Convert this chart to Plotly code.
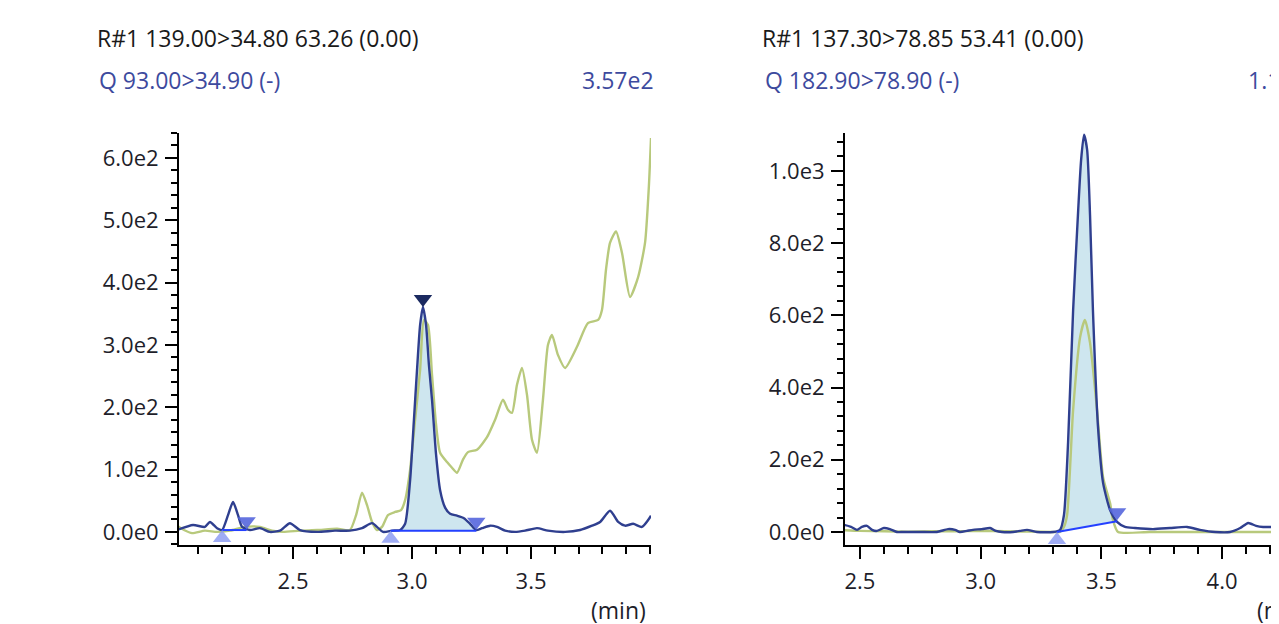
import numpy as np
import plotly.graph_objects as go

W, H = 1279, 624
PAGE_OFFSET = 8  # default body margin of the html page

# ---------------- Left panel data ----------------
left_title = "R#1 139.00>34.80 63.26 (0.00)"
left_sub = "Q 93.00>34.90 (-)"
left_max = "3.57e2"

left_navy_t = [2.013, 2.080, 2.130, 2.151, 2.181, 2.202, 2.227, 2.248, 2.269, 2.286, 2.319, 2.361,
               2.403, 2.445, 2.487, 2.529, 2.601, 2.676, 2.739, 2.790, 2.832, 2.878, 2.916, 2.950,
               2.971, 2.992, 3.008, 3.021, 3.034, 3.046, 3.059, 3.071, 3.084, 3.101, 3.118, 3.139,
               3.160, 3.189, 3.218, 3.244, 3.269, 3.294, 3.328, 3.357, 3.391, 3.433, 3.475, 3.525,
               3.571, 3.643, 3.706, 3.756, 3.790, 3.832, 3.866, 3.895, 3.929, 3.966, 3.992, 4.004]
left_navy_y = [3, 11, 8, 16, 6, 3, 27, 48, 27, 8, 3, 6,
               0, 2, 14, 3, 0, 2, 2, 6, 14, 0, 2, 3,
               13, 83, 180, 260, 332, 361, 332, 268, 212, 124, 67, 39,
               29, 26, 22, 13, 3, 6, 10, 8, 2, 0, 2, 6,
               2, 0, 3, 10, 16, 34, 16, 10, 13, 8, 19, 26]

left_green_t = [2.013, 2.042, 2.076, 2.130, 2.181, 2.235, 2.298, 2.361, 2.412, 2.458, 2.529, 2.601,
                2.685, 2.739, 2.765, 2.790, 2.811, 2.832, 2.853, 2.874, 2.899, 2.929, 2.954, 2.971,
                2.992, 3.013, 3.034, 3.050, 3.067, 3.084, 3.101, 3.118, 3.147, 3.168, 3.189, 3.214,
                3.235, 3.273, 3.315, 3.349, 3.382, 3.403, 3.420, 3.441, 3.462, 3.483, 3.504, 3.525,
                3.550, 3.571, 3.588, 3.613, 3.643, 3.693, 3.739, 3.782, 3.798, 3.815, 3.832, 3.857,
                3.882, 3.916, 3.950, 3.979, 3.995, 4.004]
left_green_y = [10, 3, -2, 2, 0, 2, 8, 8, 2, 0, 2, 3,
                5, 3, 27, 63, 43, 16, 3, 8, 27, 32, 35, 51,
                100, 180, 260, 340, 332, 252, 172, 127, 112, 103, 95, 116,
                128, 132, 152, 180, 212, 196, 191, 236, 263, 220, 148, 127,
                212, 300, 316, 284, 263, 297, 335, 340, 356, 421, 464, 482,
                448, 377, 409, 464, 554, 632]

left_peak_start = [2.202, 2.910]
left_peak_end = [2.305, 3.270]
left_peak_base0 = [3, 2]
left_peak_base1 = [3, 2]
left_peak_filled = [False, True]
left_peak_top = 3.046

# ---------------- Right panel data ----------------
right_title = "R#1 137.30>78.85 53.41 (0.00)"
right_sub = "Q 182.90>78.90 (-)"
right_max = "1.11e3"

right_navy_t = [2.430, 2.438, 2.463, 2.488, 2.508, 2.529, 2.550, 2.570, 2.599, 2.624, 2.653, 2.678, 2.749,
                2.819, 2.865, 2.894, 2.914, 2.943, 2.968, 3.005, 3.039, 3.063, 3.088, 3.134, 3.163,
                3.192, 3.233, 3.300, 3.329, 3.345, 3.362, 3.383, 3.404, 3.416, 3.428, 3.441, 3.453,
                3.465, 3.486, 3.507, 3.536, 3.565, 3.598, 3.639, 3.714, 3.784, 3.855, 3.908, 3.971,
                4.033, 4.075, 4.108, 4.141, 4.170, 4.240, 4.270]
right_navy_y = [19, 19, 14, 6, 14, 17, 6, 3, 11, 8, 0, 0, 0,
                0, 8, 6, 0, 3, 6, 8, 11, 3, 0, 0, 3,
                6, 0, 0, 6, 47, 247, 615, 892, 1030, 1100, 1058, 878,
                615, 291, 136, 61, 28, 14, 11, 8, 11, 14, 6, 0,
                0, 11, 25, 17, 14, 14, 14]

right_green_t = [2.430, 2.500, 2.600, 2.700, 2.800, 2.900, 3.000, 3.100, 3.200, 3.300, 3.329, 3.345,
                 3.358, 3.383, 3.412, 3.432, 3.453, 3.482, 3.507, 3.536, 3.548, 3.569, 3.700, 3.900,
                 4.100, 4.270]
right_green_y = [5, 3, 2, 1, 2, 2, 3, 2, 1, 0, 0, 14,
                 47, 338, 540, 587, 524, 338, 152, 80, 33, 0, 0, 0,
                 0, 0]

right_peak_start = [3.316]
right_peak_end = [3.565]
right_peak_base0 = [0]
right_peak_base1 = [30]
right_peak_filled = [True]
right_peak_top = 3.432

left_xticks = [2.5, 3.0, 3.5]
left_xlabels = ["2.5", "3.0", "3.5"]
right_xticks = [2.5, 3.0, 3.5, 4.0]
right_xlabels = ["2.5", "3.0", "3.5", "4.0"]
left_yticks = [0, 100, 200, 300, 400, 500, 600]
left_ylabels = ["0.0e0", "1.0e2", "2.0e2", "3.0e2", "4.0e2", "5.0e2", "6.0e2"]
right_yticks = [0, 200, 400, 600, 800, 1000]
right_ylabels = ["0.0e0", "2.0e2", "4.0e2", "6.0e2", "8.0e2", "1.0e3"]

# ---------------- styling / layout ----------------
NAVY = "#2f3f8f"
GREEN = "#b8c97c"
FILL = "rgba(190,222,234,0.75)"
BASE = "#2440ff"
TOPM = "#1b2a60"
ENDM = "#5566dd"
STARTM = "#8e9df2"
QCOL = "#3d4a9e"
FONT = "Open Sans"
TICK_SIZE = 22
TEXT_SIZE = 23
LW = 2.4


def fx(sx):
    return (sx - PAGE_OFFSET) / W


def fy(sy):
    return 1 - (sy - PAGE_OFFSET) / H


PLOT_TOP, PLOT_BOT = 133, 545
panels = [
    dict(px0=179, px1=651, xr=[2.021, 4.004], yr=[-21, 640], mdy=20,
         navy=(left_navy_t, left_navy_y), green=(left_green_t, left_green_y),
         ps=left_peak_start, pe=left_peak_end, b0=left_peak_base0, b1=left_peak_base1,
         pf=left_peak_filled, top=left_peak_top,
         xt=left_xticks, xl=left_xlabels, yt=left_yticks, yl=left_ylabels,
         title=left_title, sub=left_sub, mx=left_max, tx=95, sx=97, mxx=656, minx=648),
    dict(px0=845, px1=W + PAGE_OFFSET, xr=[2.438, 4.2689], yr=[-36, 1105], mdy=40,
         navy=(right_navy_t, right_navy_y), green=(right_green_t, right_green_y),
         ps=right_peak_start, pe=right_peak_end, b0=right_peak_base0, b1=right_peak_base1,
         pf=right_peak_filled, top=right_peak_top,
         xt=right_xticks, xl=right_xlabels, yt=right_yticks, yl=right_ylabels,
         title=right_title, sub=right_sub, mx=right_max, tx=760, sx=763, mxx=1322, minx=1314),
]

fig = go.Figure()
annotations = []
ydom = [fy(PLOT_BOT), fy(PLOT_TOP)]

for i, p in enumerate(panels):
    xa = "x" if i == 0 else "x2"
    ya = "y" if i == 0 else "y2"
    nt, ny = np.array(p["navy"][0]), np.array(p["navy"][1], dtype=float)
    gt, gy = np.array(p["green"][0]), np.array(p["green"][1], dtype=float)
    px_per_unit = (PLOT_BOT - PLOT_TOP) / (p["yr"][1] - p["yr"][0])
    off = 8 / px_per_unit

    # peak fills
    for s, e, b0, b1, f in zip(p["ps"], p["pe"], p["b0"], p["b1"], p["pf"]):
        if not f:
            continue
        inner = (nt > s) & (nt < e)
        xs = np.concatenate([[s], nt[inner], [e]])
        ys = np.concatenate([[np.interp(s, nt, ny)], ny[inner], [np.interp(e, nt, ny)]])
        fig.add_trace(go.Scatter(x=list(xs) + [e, s], y=list(ys) + [b1, b0], fill="toself",
                                 fillcolor=FILL, line=dict(width=0, shape="spline", smoothing=0.6),
                                 mode="lines", xaxis=xa, yaxis=ya, showlegend=False,
                                 hoverinfo="skip"))
    # green trace
    fig.add_trace(go.Scatter(x=gt, y=gy, mode="lines",
                             line=dict(color=GREEN, width=LW, shape="spline", smoothing=0.6),
                             xaxis=xa, yaxis=ya, showlegend=False))
    # navy trace
    fig.add_trace(go.Scatter(x=nt, y=ny, mode="lines",
                             line=dict(color=NAVY, width=LW, shape="spline", smoothing=0.6),
                             xaxis=xa, yaxis=ya, showlegend=False))
    # baselines
    for s, e, b0, b1 in zip(p["ps"], p["pe"], p["b0"], p["b1"]):
        fig.add_trace(go.Scatter(x=[s, e], y=[b0, b1], mode="lines",
                                 line=dict(color=BASE, width=2),
                                 xaxis=xa, yaxis=ya, showlegend=False))
    # markers
    fig.add_trace(go.Scatter(x=p["ps"], y=[b - off for b in p["b0"]], mode="markers",
                             marker=dict(symbol="triangle-up", size=16, color=STARTM, opacity=0.85),
                             xaxis=xa, yaxis=ya, showlegend=False, cliponaxis=False))
    fig.add_trace(go.Scatter(x=p["pe"], y=[b + off * 1.1 for b in p["b1"]], mode="markers",
                             marker=dict(symbol="triangle-down", size=16, color=ENDM, opacity=0.9),
                             xaxis=xa, yaxis=ya, showlegend=False, cliponaxis=False))
    ty = float(np.interp(p["top"], nt, ny))
    fig.add_trace(go.Scatter(x=[p["top"]], y=[ty + off], mode="markers",
                             marker=dict(symbol="triangle-down", size=16, color=TOPM),
                             xaxis=xa, yaxis=ya, showlegend=False, cliponaxis=False))

    xdom = [fx(p["px0"]), min(1.0, fx(p["px1"]))]
    axis_common = dict(showline=True, linecolor="black", linewidth=2, showgrid=False,
                       zeroline=False, ticks="outside", ticklen=12, tickwidth=2,
                       tickcolor="black",
                       tickfont=dict(family=FONT, size=TICK_SIZE, color="#1e1e2a"))
    xkey = "xaxis" if i == 0 else "xaxis2"
    ykey = "yaxis" if i == 0 else "yaxis2"
    fig.update_layout(**{
        xkey: dict(domain=xdom, range=p["xr"], anchor=ya, tickmode="array",
                   tickvals=p["xt"], ticktext=p["xl"], ticklabelstandoff=4,
                   minor=dict(tickmode="linear", tick0=0, dtick=0.1, ticks="outside",
                              ticklen=7, tickwidth=2, tickcolor="black"),
                   **axis_common),
        ykey: dict(domain=ydom, range=p["yr"], anchor=xa, tickmode="array",
                   tickvals=p["yt"], ticktext=p["yl"], ticklabelstandoff=2,
                   minor=dict(tickmode="linear", tick0=0, dtick=p["mdy"], ticks="outside",
                              ticklen=6, tickwidth=2, tickcolor="black"),
                   **axis_common),
    })

    for text, px, py, anc, col in [
        (p["title"], p["tx"], 38, "left", "#1a1a1a"),
        (p["sub"], p["sx"], 80, "left", QCOL),
        (p["mx"], p["mxx"], 80, "right", QCOL),
        ("(min)", p["minx"], 610, "right", "#1e1e2a"),
    ]:
        annotations.append(dict(text=text, x=fx(px), y=fy(py), xref="paper", yref="paper",
                                xanchor=anc, yanchor="middle", showarrow=False,
                                font=dict(family=FONT, size=TEXT_SIZE, color=col)))

fig.update_layout(width=W, height=H, margin=dict(l=0, r=0, t=0, b=0),
                  paper_bgcolor="white", plot_bgcolor="white",
                  annotations=annotations, showlegend=False)

fig.write_html("out.html", config={"displayModeBar": False})
